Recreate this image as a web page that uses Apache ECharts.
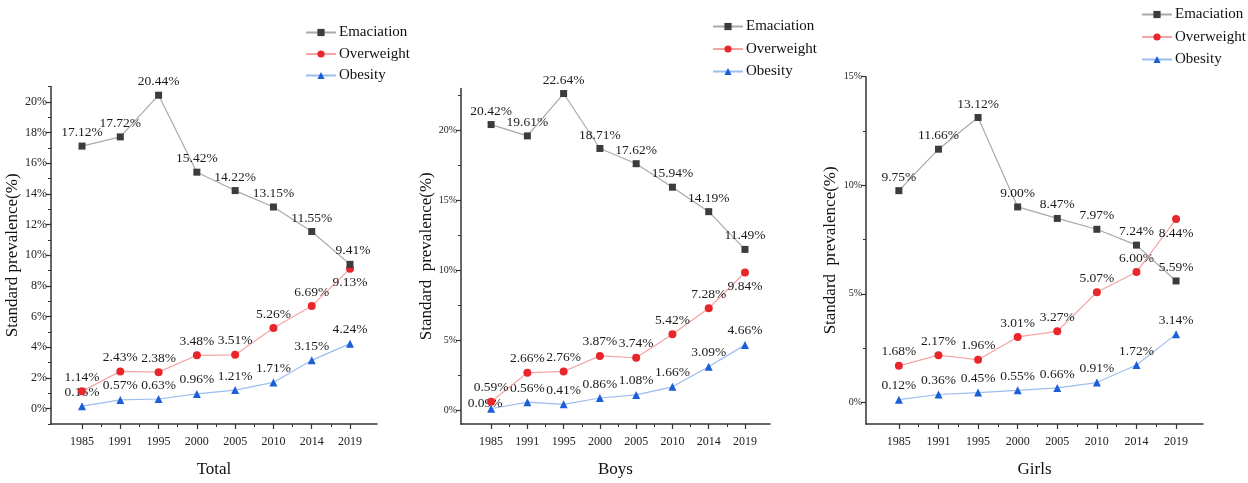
<!DOCTYPE html>
<html><head><meta charset="utf-8">
<script src="https://cdn.jsdelivr.net/npm/echarts@6/dist/echarts.min.js"></script>
<style>html,body{margin:0;padding:0;background:#fff}#c{width:1248px;height:483px}</style>
</head><body><div id="c"></div>
<script>
var categories = ['1985','1991','1995','2000','2005','2010','2014','2019'];
var seriesNames = ['Emaciation','Overweight','Obesity'];
var panelNames = ['Total','Boys','Girls'];

var totalEmaciation = [17.12,17.72,20.44,15.42,14.22,13.15,11.55,9.41];
var totalOverweight = [1.14,2.43,2.38,3.48,3.51,5.26,6.69,9.13];
var totalObesity    = [0.16,0.57,0.63,0.96,1.21,1.71,3.15,4.24];

var boysEmaciation = [20.42,19.61,22.64,18.71,17.62,15.94,14.19,11.49];
var boysOverweight = [0.59,2.66,2.76,3.87,3.74,5.42,7.28,9.84];
var boysObesity    = [0.09,0.56,0.41,0.86,1.08,1.66,3.09,4.66];

var girlsEmaciation = [9.75,11.66,13.12,9.00,8.47,7.97,7.24,5.59];
var girlsOverweight = [1.68,2.17,1.96,3.01,3.27,5.07,6.00,8.44];
var girlsObesity    = [0.12,0.36,0.45,0.55,0.66,0.91,1.72,3.14];

var totalYTicks = [0,2,4,6,8,10,12,14,16,18,20];
var totalYMinor = [-1,1,3,5,7,9,11,13,15,17,19,21];
var boysYTicks = [0,5,10,15,20];
var boysYMinor = [2.5,7.5,12.5,17.5,22.5];
var girlsYTicks = [0,5,10,15];
var girlsYMinor = [2.5,7.5,12.5];

var panelData = [
  [totalEmaciation,totalOverweight,totalObesity],
  [boysEmaciation,boysOverweight,boysObesity],
  [girlsEmaciation,girlsOverweight,girlsObesity]
];

var layout = [
  {left:51, right:1248-377, top:86.6, height:337.8, xmin:-0.81, xmax:7.705, ymin:-1, ymax:21, yt:totalYTicks, ym:totalYMinor, ynameGap:27, yname:'Standard prevalence(%)', legendLeft:305, legendTop:25, legendGap:6.5, ylabSize:12},
  {left:461, right:1248-770, top:88.5, height:337.2, xmin:-0.83, xmax:7.69, ymin:-1, ymax:23, yt:boysYTicks, ym:boysYMinor, ynameGap:18, yname:'Standard  prevalence(%)', legendLeft:712, legendTop:19, legendGap:7.5, ylabSize:10},
  {left:866, right:1248-1203, top:76.7, height:347.4, xmin:-0.83, xmax:7.68, ymin:-1, ymax:15, yt:girlsYTicks, ym:girlsYMinor, ynameGap:27, yname:'Standard  prevalence(%)', legendLeft:1141, legendTop:7, legendGap:7.5, ylabSize:10}
];

var labelOverrides = {
  '0-1-7': {position:'bottom'},
  '0-0-7': {offset:[3,0]},
  '1-1-7': {position:'bottom'},
  '1-2-0': {position:'top', offset:[-6,9]},
  '2-1-7': {position:'bottom'},
  '2-0-7': {position:'top'}
};

var lineColors = ['#a9a9a9','#f5a3a3','#9dbdf0'];
var symColors = ['#3c3c3c','#e8262b','#1b5fd6'];
var symbols = ['rect','circle','triangle'];
var symSizes = [7,8,8];
var FONT = 'Liberation Serif';
var idxs = [0,1,2,3,4,5,6,7];
var majorX = idxs;
var minorX = [0.5,1.5,2.5,3.5,4.5,5.5,6.5];

var grids=[], xAxes=[], yAxes=[], series=[], legends=[];
layout.forEach(function(L,p){
  grids.push({left:L.left, right:L.right, top:L.top, height:L.height, containLabel:false});
  xAxes.push({type:'value', gridIndex:p, position:'bottom', min:L.xmin, max:L.xmax,
    name:panelNames[p], nameLocation:'middle', nameGap:37,
    nameTextStyle:{fontFamily:FONT, fontSize:17, color:'#111'},
    axisLine:{show:true, onZero:false, lineStyle:{color:'#333', width:1.5}},
    axisTick:{show:true, length:5, customValues:majorX, lineStyle:{color:'#333', width:1.2}},
    axisLabel:{show:true, customValues:majorX, margin:12, fontFamily:FONT, fontSize:12, color:'#222',
      formatter:function(v){return categories[Math.round(v)];}},
    splitLine:{show:false}});
  xAxes.push({type:'value', gridIndex:p, position:'bottom', min:L.xmin, max:L.xmax,
    axisLine:{show:false, onZero:false},
    axisTick:{show:true, length:3, customValues:minorX, lineStyle:{color:'#333', width:1}},
    axisLabel:{show:false}, splitLine:{show:false}});
  yAxes.push({type:'value', gridIndex:p, position:'left', min:L.ymin, max:L.ymax,
    name:L.yname, nameLocation:'middle', nameGap:L.ynameGap, nameRotate:90,
    nameTextStyle:{fontFamily:FONT, fontSize:17, color:'#111'},
    axisLine:{show:true, onZero:false, lineStyle:{color:'#333', width:1.5}},
    axisTick:{show:true, length:5, customValues:L.yt, lineStyle:{color:'#333', width:1.2}},
    axisLabel:{show:true, customValues:L.yt, margin:4, fontFamily:FONT, fontSize:L.ylabSize, color:'#222',
      formatter:function(v){return v+'%';}},
    splitLine:{show:false}});
  yAxes.push({type:'value', gridIndex:p, position:'left', min:L.ymin, max:L.ymax,
    axisLine:{show:false, onZero:false},
    axisTick:{show:true, length:3, customValues:L.ym, lineStyle:{color:'#333', width:1}},
    axisLabel:{show:false}, splitLine:{show:false}});
  legends.push({orient:'vertical', left:L.legendLeft, top:L.legendTop, padding:0, itemWidth:30, itemHeight:9,
    itemGap:L.legendGap, data:seriesNames,
    textStyle:{fontFamily:FONT, fontSize:15, color:'#111', padding:[0,0,0,-2]}});
  panelData[p].forEach(function(vals,s){
    series.push({type:'line', name:seriesNames[s], xAxisIndex:p*2, yAxisIndex:p*2,
      symbol:symbols[s], symbolSize:symSizes[s],
      lineStyle:{color:lineColors[s], width:1.2},
      itemStyle:{color:symColors[s]},
      label:{show:true, position:'top', distance:3, fontFamily:FONT, fontSize:13.5, color:'#1a1a1a',
        formatter:function(pr){return pr.value[1].toFixed(2)+'%';}},
      z:10-s,
      data:vals.map(function(v,i){
        var d={value:[idxs[i], v]};
        var o=labelOverrides[p+'-'+s+'-'+i];
        if(o){d.label=o;}
        return d;
      })
    });
  });
});

var chart = echarts.init(document.getElementById('c'), null, {renderer:'canvas'});
chart.setOption({animation:false, backgroundColor:'#fff', grid:grids, xAxis:xAxes, yAxis:yAxes, legend:legends, series:series});
</script></body></html>
